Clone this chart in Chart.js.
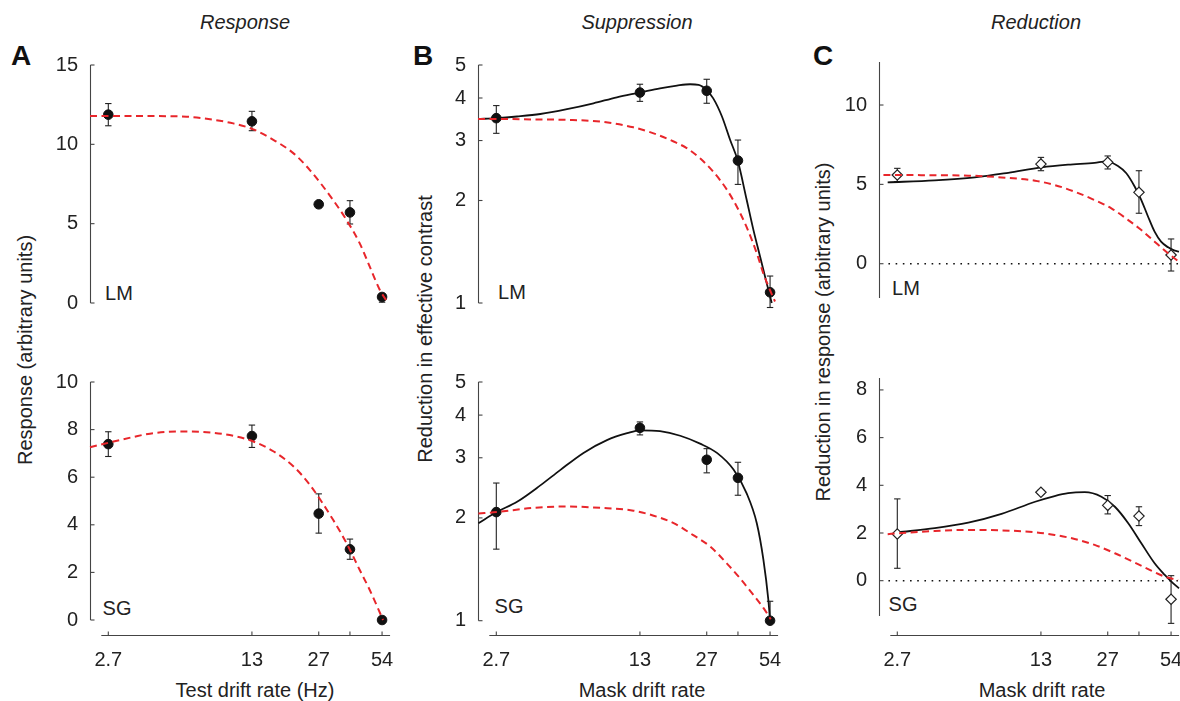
<!DOCTYPE html>
<html><head><meta charset="utf-8">
<script src="https://cdn.jsdelivr.net/npm/chart.js@4.4.1/dist/chart.umd.min.js"></script>
<style>
html,body{margin:0;padding:0;background:#fff;overflow:hidden;width:1180px;height:701px;position:relative;}
.box{position:absolute;}
.t{position:absolute;font-family:"Liberation Sans",Arial,Helvetica,sans-serif;font-size:20px;line-height:20px;color:#222;white-space:nowrap;transform:translate(-50%,-50%);}
.it{font-style:italic}
.big{font-weight:bold;font-size:28px;line-height:28px;color:#111}
.rot{transform:translate(-50%,-50%) rotate(-90deg)}
</style></head><body>
<div class="t big" style="left:21px;top:56px">A</div>
<div class="t big" style="left:423px;top:56px">B</div>
<div class="t big" style="left:823px;top:56px">C</div>
<div class="t it" style="left:245px;top:22px">Response</div>
<div class="t it" style="left:637px;top:22px">Suppression</div>
<div class="t it" style="left:1036px;top:22px">Reduction</div>
<div class="t rot" style="left:25px;top:350px">Response (arbitrary units)</div>
<div class="t rot" style="left:425px;top:329px">Reduction in effective contrast</div>
<div class="t rot" style="left:823px;top:332px">Reduction in response (arbitrary units)</div>
<div class="t" style="left:255px;top:690px">Test drift rate (Hz)</div>
<div class="t" style="left:642px;top:690px">Mask drift rate</div>
<div class="t" style="left:1042px;top:690px">Mask drift rate</div>
<div class="t" style="left:119px;top:293px">LM</div>
<div class="t" style="left:117px;top:608px">SG</div>
<div class="t" style="left:512px;top:292px">LM</div>
<div class="t" style="left:509px;top:606px">SG</div>
<div class="t" style="left:906px;top:288px">LM</div>
<div class="t" style="left:903px;top:604px">SG</div>
<script>
// ---------- shared axis data ----------
const DRIFT = [2.7, 13, 27, 38, 54];
const X_TICKS = [2.7, 13, 27, 38, 54];
const X_TICK_LABELS = ['2.7', '13', '27', '', '54'];
const ZERO_X = [2.45, 58.9];
const ZERO_Y = [0, 0];

// ---------- Panel A (Response) ----------
const A_LM_Y  = [11.87, 11.45, 6.22, 5.71, 0.38];
const A_LM_LO = [11.17, 10.86, 6.12, 4.98, 0.05];
const A_LM_HI = [12.57, 12.08, 6.32, 6.45, 0.60];
const A_LM_FIT_X = [2.21, 4.26, 6.36, 7.92, 10.6, 13.2, 16.5, 20.5, 24.5, 31.6, 36.6, 42.3, 47.2, 52.7, 57.8];
const A_LM_FIT_Y = [11.78, 11.78, 11.74, 11.61, 11.32, 10.94, 10.27, 9.43, 8.38, 6.49, 5.23, 3.76, 2.29, 0.82, -0.02];
const A_LM_TICKS = [0, 5, 10, 15];

const A_SG_Y  = [7.39, 7.73, 4.47, 2.97, 0.0];
const A_SG_LO = [6.87, 7.25, 3.65, 2.55, 0.0];
const A_SG_HI = [7.91, 8.19, 5.30, 3.40, 0.0];
const A_SG_FIT_X = [2.21, 3.55, 4.26, 5.92, 7.92, 10.6, 13.2, 16.5, 20.5, 24.5, 31.6, 36.6, 42.3, 47.2, 54.6];
const A_SG_FIT_Y = [7.26, 7.69, 7.83, 7.92, 7.89, 7.74, 7.50, 7.08, 6.45, 5.68, 4.21, 3.23, 2.10, 1.26, 0.0];
const A_SG_TICKS = [0, 2, 4, 6, 8, 10];

// ---------- Panel B (Suppression) ----------
const B_LM_Y  = [3.49, 4.15, 4.20, 2.62, 1.075];
const B_LM_LO = [3.15, 3.91, 3.86, 2.23, 0.97];
const B_LM_HI = [3.80, 4.39, 4.54, 3.01, 1.20];
const B_LM_MODEL_X = [2.21, 2.70, 3.39, 4.37, 5.85, 7.82, 10.1, 13.0, 16.2, 19.5, 22.5, 24.7, 27.0, 29.0, 31.9, 34.9, 37.9, 41.8, 45.0, 48.4, 52.1, 55.0];
const B_LM_MODEL_Y = [3.47, 3.49, 3.53, 3.59, 3.71, 3.86, 4.02, 4.15, 4.27, 4.35, 4.39, 4.37, 4.22, 3.99, 3.53, 3.01, 2.62, 2.01, 1.64, 1.37, 1.14, 1.0];
const B_LM_FIT_X = [2.21, 2.82, 4.06, 5.85, 8.42, 12.1, 15.1, 18.8, 21.7, 25.1, 29.0, 33.7, 37.5, 41.8, 46.7, 50.2, 54.0, 57.0];
const B_LM_FIT_Y = [3.47, 3.47, 3.46, 3.45, 3.41, 3.28, 3.15, 2.98, 2.85, 2.66, 2.43, 2.15, 1.92, 1.67, 1.40, 1.22, 1.09, 1.01];

const B_SG_Y  = [2.08, 3.67, 2.96, 2.62, 1.0];
const B_SG_LO = [1.62, 3.50, 2.71, 2.33, 1.0];
const B_SG_HI = [2.53, 3.82, 3.19, 2.91, 1.14];
const B_SG_MODEL_X = [2.22, 2.71, 3.39, 4.37, 5.43, 7.01, 9.06, 11.3, 13.0, 16.2, 20.2, 25.1, 30.2, 36.2, 41.8, 46.7, 50.2, 53.0, 54.0];
const B_SG_MODEL_Y = [1.93, 2.08, 2.23, 2.49, 2.76, 3.10, 3.38, 3.54, 3.61, 3.59, 3.48, 3.30, 3.10, 2.77, 2.36, 1.93, 1.51, 1.15, 1.0];
const B_SG_FIT_X = [2.22, 2.71, 4.06, 5.85, 8.42, 12.1, 15.1, 18.8, 23.3, 28.0, 33.7, 38.9, 45.0, 50.2, 54.4];
const B_SG_FIT_Y = [2.06, 2.08, 2.14, 2.16, 2.14, 2.10, 2.03, 1.93, 1.78, 1.65, 1.47, 1.33, 1.19, 1.09, 1.01];
const B_TICKS = [1, 2, 3, 4, 5];

// ---------- Panel C (Reduction) ----------
const C_LM_Y  = [5.59, 6.28, 6.39, 4.50, 0.55];
const C_LM_LO = [5.17, 5.86, 5.97, 3.18, -0.46];
const C_LM_HI = [6.01, 6.70, 6.79, 5.86, 1.56];
const C_LM_MODEL_X = [2.43, 4.07, 6.31, 9.09, 13.1, 17.5, 23.4, 26.6, 30.2, 33.1, 36.3, 39.0, 42.0, 45.1, 48.4, 52.3, 56.2, 58.9];
const C_LM_MODEL_Y = [5.13, 5.25, 5.44, 5.73, 6.07, 6.24, 6.36, 6.45, 6.16, 5.70, 4.85, 4.01, 2.96, 2.02, 1.39, 1.03, 0.82, 0.76];
const C_LM_FIT_X = [2.32, 5.87, 8.45, 12.2, 15.1, 18.8, 23.4, 28.1, 33.8, 39.0, 45.1, 52.3, 58.9];
const C_LM_FIT_Y = [5.59, 5.55, 5.44, 5.23, 4.96, 4.54, 4.01, 3.49, 2.75, 2.12, 1.39, 0.66, 0.12];
const C_LM_TICKS = [0, 5, 10];

const C_SG_Y  = [1.96, 3.71, 3.16, 2.71, -0.78];
const C_SG_LO = [0.52, 3.62, 2.80, 2.31, -1.79];
const C_SG_HI = [3.43, 3.80, 3.57, 3.10, 0.21];
const C_SG_MODEL_X = [2.73, 4.07, 5.87, 8.45, 12.2, 15.1, 17.5, 21.0, 25.2, 29.2, 33.8, 39.0, 45.1, 50.4, 54.2, 58.9];
const C_SG_MODEL_Y = [2.03, 2.20, 2.43, 2.80, 3.31, 3.55, 3.67, 3.71, 3.52, 3.10, 2.41, 1.57, 0.73, 0.24, -0.04, -0.32];
const C_SG_FIT_X = [2.43, 2.73, 4.07, 5.87, 8.45, 12.2, 15.1, 18.8, 23.4, 29.2, 36.3, 43.5, 50.4, 58.3];
const C_SG_FIT_Y = [1.95, 1.99, 2.08, 2.13, 2.11, 2.03, 1.92, 1.75, 1.50, 1.15, 0.76, 0.42, 0.17, 0.03];
const C_SG_TICKS = [0, 2, 4, 6, 8];

// ---------- helpers ----------
const FONT = '"Liberation Sans", Arial, Helvetica, sans-serif';
const RED = '#e8262b';
const INK = '#111';
function pts(xs, ys) { return xs.map((x, i) => ({ x: x, y: ys[i] })); }
function errPts(xs, lo, hi) {
  const out = [];
  xs.forEach((x, i) => { out.push({ x: x, y: lo[i] }, { x: x, y: hi[i] }, { x: x, y: null }); });
  return out;
}

const axisLines = {
  id: 'axisLines',
  beforeDatasetsDraw(chart, args, o) {
    const ctx = chart.ctx, xs = chart.scales.x, ys = chart.scales.y, ca = chart.chartArea;
    ctx.save();
    ctx.strokeStyle = '#444';
    ctx.lineWidth = 1.1;
    const x0 = Math.round(ca.left) + 0.5;
    ctx.beginPath();
    ctx.moveTo(x0, ys.getPixelForValue(o.yFrom));
    ctx.lineTo(x0, ys.getPixelForValue(o.yTo));
    ctx.stroke();
    o.yTicks.forEach(v => {
      const p = ys.getPixelForValue(v);
      ctx.beginPath(); ctx.moveTo(x0, p); ctx.lineTo(x0 + 4, p); ctx.stroke();
    });
    if (o.showX) {
      const yb = Math.round(ca.bottom) - 0.5;
      const a = xs.getPixelForValue(X_TICKS[0]) - 7;
      const b = xs.getPixelForValue(X_TICKS[X_TICKS.length - 1]) + 8;
      ctx.beginPath(); ctx.moveTo(a, yb); ctx.lineTo(b, yb); ctx.stroke();
      X_TICKS.forEach(v => {
        const p = xs.getPixelForValue(v);
        ctx.beginPath(); ctx.moveTo(p, yb); ctx.lineTo(p, yb - 4); ctx.stroke();
      });
    }
    ctx.restore();
  }
};

function panel(cfg) {
  const div = document.createElement('div');
  div.className = 'box';
  div.style.left = cfg.left + 'px';
  div.style.top = cfg.top + 'px';
  div.style.width = cfg.w + 'px';
  div.style.height = cfg.h + 'px';
  const cv = document.createElement('canvas');
  div.appendChild(cv);
  document.body.appendChild(div);

  const ds = [];
  ds.push({ data: pts(cfg.fitX, cfg.fitY), borderColor: RED, borderWidth: 2, borderDash: [7, 4.5],
            pointRadius: 0, showLine: true, cubicInterpolationMode: 'monotone', fill: false, clip: false });
  if (cfg.open) {
    ds.push({ data: pts(DRIFT, cfg.y), showLine: false, pointStyle: 'rectRot', pointRadius: 5.2,
              pointBackgroundColor: '#fff', pointBorderColor: '#222', pointBorderWidth: 1.2, clip: false });
  } else {
    ds.push({ data: pts(DRIFT, cfg.y), showLine: false, pointStyle: 'circle', pointRadius: 4.8,
              pointBackgroundColor: INK, pointBorderColor: INK, pointBorderWidth: 1, clip: false });
  }
  if (cfg.modelX) {
    ds.push({ data: pts(cfg.modelX, cfg.modelY), borderColor: INK, borderWidth: 1.8,
              pointRadius: 0, showLine: true, cubicInterpolationMode: 'monotone', fill: false, clip: false });
  }
  ds.push({ data: errPts(DRIFT, cfg.lo, cfg.hi), borderColor: '#222', borderWidth: 1.1, showLine: true,
            spanGaps: false, tension: 0, pointStyle: 'line', pointRadius: 3.2, pointBorderWidth: 1.1,
            pointBorderColor: '#222', clip: false });
  if (cfg.zero) {
    ds.push({ data: pts(ZERO_X, ZERO_Y), borderColor: '#111', borderWidth: 1.6, borderDash: [1.6, 5.6],
              pointRadius: 0, showLine: true, clip: false });
  }

  const tickFont = { family: FONT, size: 20 };
  new Chart(cv, {
    type: 'line',
    data: { datasets: ds },
    options: {
      responsive: true, maintainAspectRatio: false, animation: false, events: [],
      layout: { padding: { top: 20, right: 12, left: 0, bottom: cfg.bottom ? 0 : 20 } },
      plugins: { legend: { display: false }, tooltip: { enabled: false },
                 axisLines: { yFrom: cfg.yFrom, yTo: cfg.yTo, yTicks: cfg.yTicks, showX: cfg.bottom } },
      scales: {
        x: {
          type: 'logarithmic', min: 2.21, max: 58.9, display: cfg.bottom,
          border: { display: false }, grid: { display: false, drawTicks: false },
          ticks: { autoSkip: false, maxRotation: 0, minRotation: 0, padding: 12, color: '#222', font: tickFont,
                   callback: (v, i) => X_TICK_LABELS[i] },
          afterBuildTicks: s => { s.ticks = X_TICKS.map(v => ({ value: v })); },
          afterFit: s => { s.height = cfg.bottom ? 60 : 0; s.paddingLeft = 0; s.paddingRight = 0; }
        },
        y: {
          type: cfg.log ? 'logarithmic' : 'linear', min: cfg.yMin, max: cfg.yMax, position: 'left',
          border: { display: false }, grid: { display: false, drawTicks: false },
          ticks: { padding: 12, color: '#222', font: tickFont, autoSkip: false,
                   callback: (v, i) => String(cfg.yTicks[i]) },
          afterBuildTicks: s => { s.ticks = cfg.yTicks.map(v => ({ value: v })); },
          afterFit: s => { s.width = 60; s.paddingTop = 0; s.paddingBottom = 0; }
        }
      }
    },
    plugins: [axisLines]
  });
}

// A
panel({ left: 30, top: 45, w: 372, h: 278, bottom: false, yMin: 0, yMax: 15, yFrom: 15, yTo: 0, yTicks: A_LM_TICKS,
        y: A_LM_Y, lo: A_LM_LO, hi: A_LM_HI, fitX: A_LM_FIT_X, fitY: A_LM_FIT_Y });
panel({ left: 30, top: 362, w: 372, h: 334, bottom: true, yMin: -0.672, yMax: 10, yFrom: 10, yTo: 0, yTicks: A_SG_TICKS,
        y: A_SG_Y, lo: A_SG_LO, hi: A_SG_HI, fitX: A_SG_FIT_X, fitY: A_SG_FIT_Y });
// B
panel({ left: 418, top: 45, w: 372, h: 278, bottom: false, log: true, yMin: 1, yMax: 5, yFrom: 5, yTo: 1, yTicks: B_TICKS,
        y: B_LM_Y, lo: B_LM_LO, hi: B_LM_HI, fitX: B_LM_FIT_X, fitY: B_LM_FIT_Y, modelX: B_LM_MODEL_X, modelY: B_LM_MODEL_Y });
panel({ left: 418, top: 362, w: 372, h: 334, bottom: true, log: true, yMin: 0.902, yMax: 5, yFrom: 5, yTo: 1, yTicks: B_TICKS,
        y: B_SG_Y, lo: B_SG_LO, hi: B_SG_HI, fitX: B_SG_FIT_X, fitY: B_SG_FIT_Y, modelX: B_SG_MODEL_X, modelY: B_SG_MODEL_Y });
// C
panel({ left: 819, top: 42, w: 372, h: 276, bottom: false, open: true, zero: true, yMin: -2.16, yMax: 12.71, yFrom: 12.71, yTo: -2.16, yTicks: C_LM_TICKS,
        y: C_LM_Y, lo: C_LM_LO, hi: C_LM_HI, fitX: C_LM_FIT_X, fitY: C_LM_FIT_Y, modelX: C_LM_MODEL_X, modelY: C_LM_MODEL_Y });
panel({ left: 819, top: 358, w: 372, h: 338, bottom: true, open: true, zero: true, yMin: -2.32, yMax: 8.5, yFrom: 8.5, yTo: -1.48, yTicks: C_SG_TICKS,
        y: C_SG_Y, lo: C_SG_LO, hi: C_SG_HI, fitX: C_SG_FIT_X, fitY: C_SG_FIT_Y, modelX: C_SG_MODEL_X, modelY: C_SG_MODEL_Y });
</script>
</body></html>
